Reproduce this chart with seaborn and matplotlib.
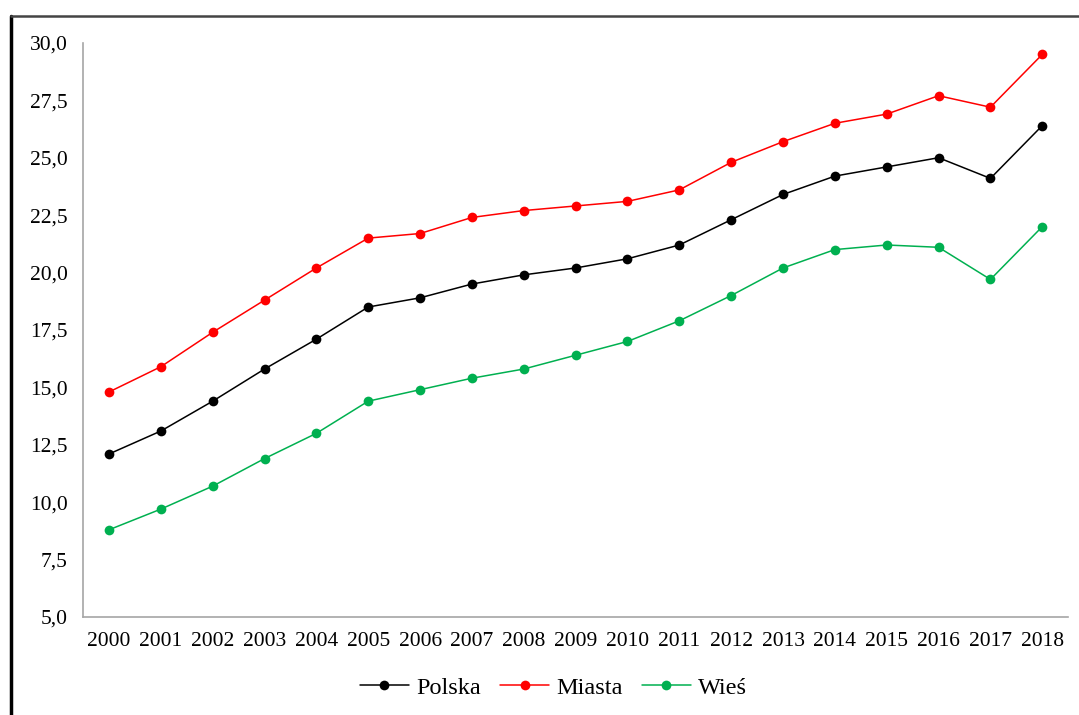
import numpy as np
import pandas as pd
import matplotlib
matplotlib.use("Agg")
import matplotlib.pyplot as plt
from matplotlib.lines import Line2D
from matplotlib.ticker import FixedLocator
import seaborn as sns

# data
years = [str(y) for y in range(2000, 2019)]
polska = [12.1, 13.1, 14.4, 15.8, 17.1, 18.5, 18.9, 19.5, 19.9, 20.2,
          20.6, 21.2, 22.3, 23.4, 24.2, 24.6, 25.0, 24.1, 26.4]
miasta = [14.8, 15.9, 17.4, 18.8, 20.2, 21.5, 21.7, 22.4, 22.7, 22.9,
          23.1, 23.6, 24.8, 25.7, 26.5, 26.9, 27.7, 27.2, 29.5]
wies = [8.8, 9.7, 10.7, 11.9, 13.0, 14.4, 14.9, 15.4, 15.8, 16.4,
        17.0, 17.9, 19.0, 20.2, 21.0, 21.2, 21.1, 19.7, 22.0]
series_names = ["Polska", "Miasta", "Wieś"]
colors = {"Polska": "#000000", "Miasta": "#FF0000", "Wieś": "#00B050"}

pos = np.arange(len(years))
df = pd.concat([
    pd.DataFrame({"pos": pos, "value": vals, "seria": name})
    for name, vals in zip(series_names, [polska, miasta, wies])
])

sns.set_style("white")
plt.rcParams["font.family"] = ["Liberation Serif", "DejaVu Serif"]
plt.rcParams["text.color"] = "black"
plt.rcParams["xtick.color"] = "black"
plt.rcParams["ytick.color"] = "black"

fig = plt.figure(figsize=(10.79, 7.15), dpi=100)
ax = fig.add_axes([0.077, 0.137, 0.913, 0.803])

sns.lineplot(data=df, x="pos", y="value", hue="seria", hue_order=series_names,
             palette=colors, marker="o", markersize=7, markeredgewidth=0,
             linewidth=1.1, ax=ax, legend=False)

ax.set_xlim(-0.5, len(years) - 0.5)
ax.set_ylim(5, 30)
ax.set_yticks(np.arange(5, 30.01, 2.5))
ax.set_yticklabels([f"{v:.1f}".replace(".", ",") for v in np.arange(5, 30.01, 2.5)])
ax.set_xticks(pos)
ax.set_xticklabels(years)
ax.xaxis.set_minor_locator(FixedLocator(np.arange(-0.5, len(years), 1.0)))
ax.tick_params(axis="x", which="major", length=0, pad=11, labelsize=15.5)
ax.tick_params(axis="x", which="minor", length=6, color="#A6A6A6", width=1, direction="out")
ax.tick_params(axis="y", length=6, color="#A6A6A6", width=1, direction="out",
               labelsize=15.5, pad=5, labelcolor="black")
ax.set_xlabel("")
ax.set_ylabel("")

for s in ["top", "right"]:
    ax.spines[s].set_visible(False)
for s in ["left", "bottom"]:
    ax.spines[s].set_color("#A6A6A6")
    ax.spines[s].set_linewidth(1.2)

handles = [Line2D([], [], color=colors[n], marker="o", markersize=7,
                  markeredgewidth=0, linewidth=1.1) for n in series_names]
fig.legend(handles, series_names, loc="center", bbox_to_anchor=(0.513, 0.038),
           ncol=3, frameon=False, fontsize=17.5, handlelength=2.0,
           columnspacing=0.8, handletextpad=0.3)

# outer frame (partly cropped in the source)
fig.add_artist(Line2D([0.0102, 0.0102], [0, 1 - 16 / 715], color="black",
                      linewidth=2.5, transform=fig.transFigure))
fig.add_artist(Line2D([0.0102, 1], [1 - 16 / 715, 1 - 16 / 715], color="#444444",
                      linewidth=1.8, transform=fig.transFigure))

fig.savefig("out.png", dpi=100)
